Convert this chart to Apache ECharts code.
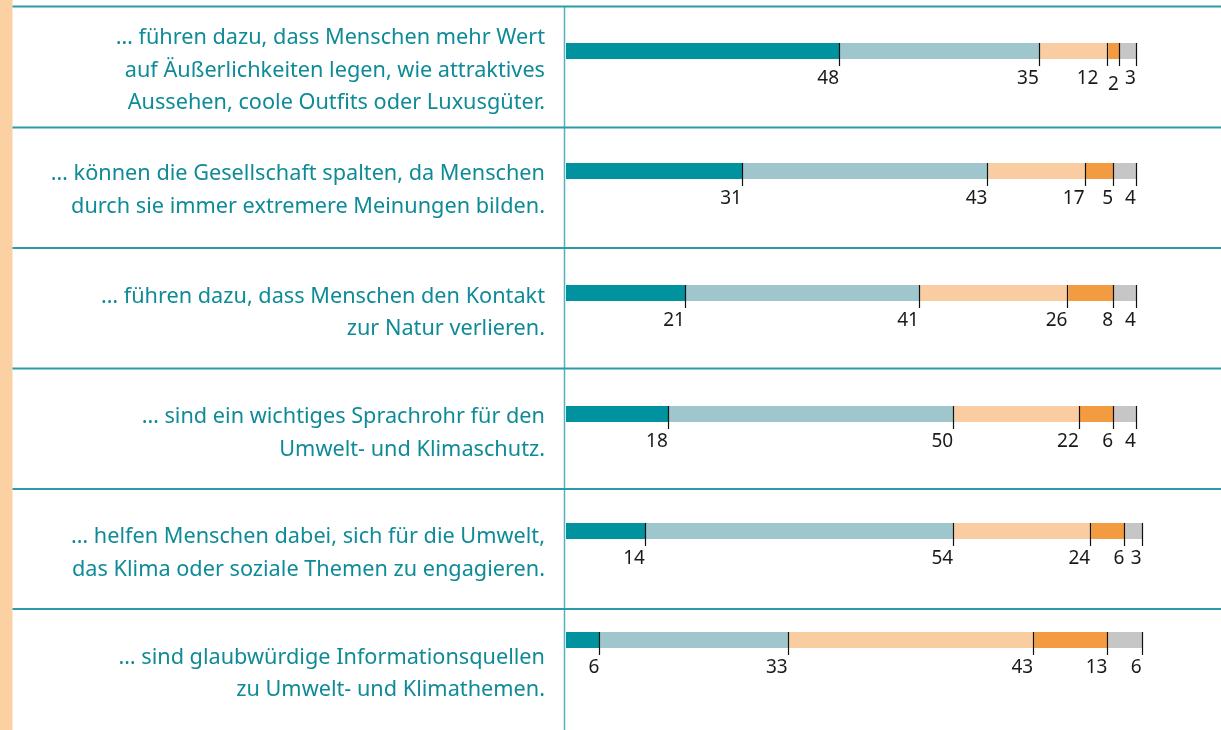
<!DOCTYPE html>
<html><head><meta charset="utf-8">
<script src="https://cdn.jsdelivr.net/npm/echarts@6/dist/echarts.min.js"></script>
<style>html,body{margin:0;padding:0;background:#fff}#c{width:1221px;height:730px}</style>
</head><body><div id="c"></div>
<script>
const categories = [
  "… führen dazu, dass Menschen mehr Wert\nauf Äußerlichkeiten legen, wie attraktives\nAussehen, coole Outfits oder Luxusgüter.",
  "… können die Gesellschaft spalten, da Menschen\ndurch sie immer extremere Meinungen bilden.",
  "… führen dazu, dass Menschen den Kontakt\nzur Natur verlieren.",
  "… sind ein wichtiges Sprachrohr für den\nUmwelt- und Klimaschutz.",
  "… helfen Menschen dabei, sich für die Umwelt,\ndas Klima oder soziale Themen zu engagieren.",
  "… sind glaubwürdige Informationsquellen\nzu Umwelt- und Klimathemen."
];
const seg1 = [48, 31, 21, 18, 14, 6];
const seg2 = [35, 43, 41, 50, 54, 33];
const seg3 = [12, 17, 26, 22, 24, 43];
const seg4 = [2, 5, 8, 6, 6, 13];
const seg5 = [3, 4, 4, 4, 3, 6];

const segColors = ['#00929f', '#9fc5cd', '#f9cda1', '#f39b40', '#c6c6c6'];
const segs = [seg1, seg2, seg3, seg4, seg5];

// layout (style)
const barTops = [43, 163, 285, 406, 523, 632];
const rowLines = [6.5, 127.5, 248, 368.5, 489, 609];
const textCenters = [70.5, 190.5, 313, 433.5, 553.5, 674];
const BAR_H = 16;
const labelNudge = { '0-2': [-9, 0], '0-3': [0, 6] };

const grids = [], xAxes = [], yAxes = [], series = [];
categories.forEach((cat, r) => {
  grids.push({ left: 566, width: 628, top: barTops[r], height: BAR_H });
  xAxes.push({ gridIndex: r, type: 'value', min: 0, max: 110, show: false });
  yAxes.push({ gridIndex: r, type: 'category', data: [cat], show: false });
  segs.forEach((s, k) => {
    const n = labelNudge[r + '-' + k] || [0, 0];
    series.push({
      type: 'bar', xAxisIndex: r, yAxisIndex: r, stack: 'row' + r,
      barWidth: BAR_H, data: [s[r]], silent: true,
      itemStyle: { color: segColors[k] },
      label: {
        show: true, position: ['100%', '100%'], align: 'right', verticalAlign: 'middle',
        offset: [-1 + n[0], 20 + n[1]], color: '#1a1a1a',
        fontFamily: 'Noto Sans', fontSize: 19, formatter: '{c}'
      }
    });
  });
  // tick marks at the end of each segment
  const cum = [];
  let acc = 0;
  segs.forEach(s => { acc += s[r]; cum.push([acc, 0]); });
  series.push({
    type: 'custom', xAxisIndex: r, yAxisIndex: r, data: cum, silent: true, z: 10,
    renderItem: (params, api) => {
      const p = api.coord([api.value(0), 0]);
      const x = Math.round(p[0]) - 0.5;
      return { type: 'line', shape: { x1: x, y1: p[1] - BAR_H / 2, x2: x, y2: p[1] + BAR_H / 2 + 7 },
        style: { stroke: '#111', lineWidth: 1.2 } };
    }
  });
});

const graphic = [
  { type: 'rect', shape: { x: 0, y: 0, width: 12.5, height: 730 }, style: { fill: '#fbd0a3' }, z: 0 },
  { type: 'line', shape: { x1: 564.5, y1: 6, x2: 564.5, y2: 730 }, style: { stroke: '#55b1ba', lineWidth: 1.5 }, z: 1 }
];
rowLines.forEach(y => graphic.push({ type: 'line', shape: { x1: 12.5, y1: y, x2: 1221, y2: y },
  style: { stroke: '#2a9ca7', lineWidth: 2 }, z: 1 }));
categories.forEach((cat, r) => graphic.push({
  type: 'text', x: 545, y: textCenters[r], z: 2,
  style: { text: cat, align: 'right', verticalAlign: 'middle', fill: '#0e8b97',
    font: '21.7px "Noto Sans"', lineHeight: 32.5 }
}));

const chart = echarts.init(document.getElementById('c'), null, { renderer: 'canvas' });
chart.setOption({ animation: false, grid: grids, xAxis: xAxes, yAxis: yAxes, series, graphic });
</script></body></html>
